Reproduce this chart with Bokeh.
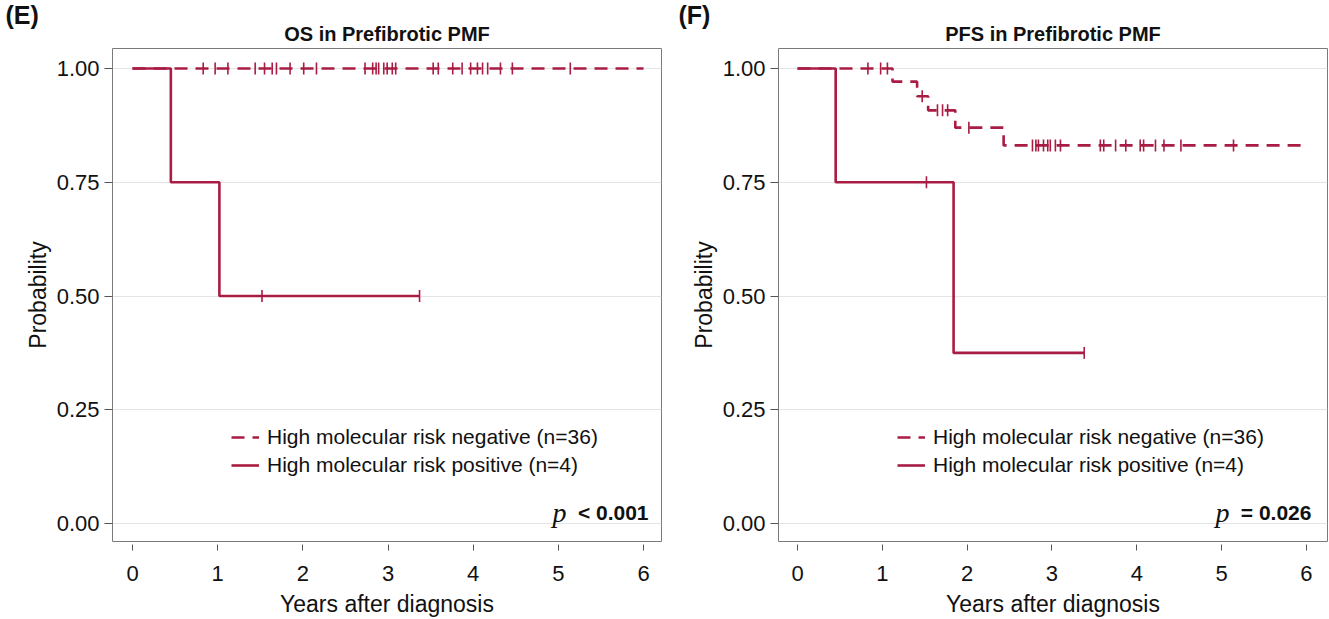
import numpy as np
from bokeh.plotting import figure
from bokeh.layouts import row
from bokeh.models import Label, Legend, LegendItem, FixedTicker, Range1d, PrintfTickFormatter, Title
from bokeh.embed import file_html
from bokeh.resources import INLINE

# ---------------- data ----------------
year_ticks = [0, 1, 2, 3, 4, 5, 6]
prob_ticks = [0.0, 0.25, 0.50, 0.75, 1.00]

neg_label = "High molecular risk negative (n=36)"
pos_label = "High molecular risk positive (n=4)"

# OS panel
os_neg_time = [0.0, 6.0]
os_neg_surv = [1.0, 1.0]
os_neg_censor = [0.83, 0.97, 1.12, 1.44, 1.55, 1.64, 1.69, 1.85, 2.01, 2.16,
                 2.73, 2.82, 2.86, 2.89, 2.95, 2.99, 3.05, 3.09, 3.53, 3.59,
                 3.76, 3.87, 3.97, 4.05, 4.11, 4.17, 4.32, 4.46, 5.14]
os_pos_time = [0.0, 0.45, 1.02, 3.37]
os_pos_surv = [1.0, 0.75, 0.50, 0.50]
os_pos_censor = [1.52, 3.37]

# PFS panel
pfs_neg_time = [0.0, 1.12, 1.41, 1.54, 1.86, 2.43, 6.0]
pfs_neg_surv = [1.0, 0.971, 0.939, 0.908, 0.870, 0.831, 0.831]
pfs_neg_censor = [0.83, 0.98, 1.06, 1.47, 1.65, 1.71, 1.77, 2.02,
                  2.77, 2.81, 2.84, 2.90, 2.95, 2.98, 3.04, 3.10, 3.57, 3.61,
                  3.75, 3.87, 4.04, 4.08, 4.22, 4.32, 4.52, 5.14]
pfs_pos_time = [0.0, 0.45, 1.84, 3.38]
pfs_pos_surv = [1.0, 0.75, 0.375, 0.375]
pfs_pos_censor = [1.52, 3.38]

COLOR = "#A91C43"
FONT = "Liberation Sans"
TXT = "#111111"


def surv_at(times, surv, pts):
    t = np.asarray(times)
    s = np.asarray(surv)
    idx = np.searchsorted(t, np.asarray(pts), side="right") - 1
    idx = np.clip(idx, 0, len(s) - 1)
    return s[idx]


def km_panel(title, letter, neg, pos, p_op, width, left, right, xr, letter_off):
    p = figure(width=width, height=619, output_backend="svg", toolbar_location=None,
               x_range=Range1d(*xr), y_range=Range1d(-0.0395, 1.0439),
               min_border_left=left, min_border_right=right,
               min_border_top=48, min_border_bottom=77)
    # outer title: panel letter
    p.title.text = letter
    p.title.align = "left"
    p.title.offset = letter_off
    p.title.text_font = FONT
    p.title.text_font_size = "25px"
    p.title.text_font_style = "bold"
    p.title.text_color = TXT
    p.title.standoff = -24

    # inner title: panel heading
    p.add_layout(Title(text=title, align="center", standoff=8,
                       text_font=FONT, text_font_size="20px", text_font_style="bold",
                       text_color=TXT), "above")

    p.outline_line_color = "#7a7a7a"
    p.outline_line_width = 1
    p.xgrid.grid_line_color = None
    p.ygrid.grid_line_color = "#e4e4e4"
    p.ygrid.grid_line_width = 1.2
    p.ygrid.ticker = FixedTicker(ticks=prob_ticks)

    p.xaxis.ticker = FixedTicker(ticks=year_ticks)
    p.yaxis.ticker = FixedTicker(ticks=prob_ticks)
    p.yaxis.formatter = PrintfTickFormatter(format="%.2f")
    for ax in (p.xaxis, p.yaxis):
        ax.axis_line_color = None
        ax.minor_tick_line_color = None
        ax.major_tick_line_color = "#555555"
        ax.major_tick_line_width = 1
        ax.major_label_text_font = FONT
        ax.major_label_text_font_size = "22px"
        ax.major_label_text_color = TXT
        ax.axis_label_text_font = FONT
        ax.axis_label_text_font_size = "23px"
        ax.axis_label_text_font_style = "normal"
        ax.axis_label_text_color = TXT
    p.xaxis.major_tick_in = -3
    p.xaxis.major_tick_out = 9
    p.xaxis.major_label_standoff = 15
    p.xaxis.axis_label_standoff = 7
    p.yaxis.major_tick_in = 0
    p.yaxis.major_tick_out = 8
    p.yaxis.major_label_standoff = 5
    p.yaxis.axis_label_standoff = 3
    p.xaxis.axis_label = "Years after diagnosis"
    p.yaxis.axis_label = "Probability"

    nt, ns, nc = neg
    pt, ps, pc = pos
    r_neg = p.step(nt, ns, mode="after", line_color=COLOR, line_width=2.6, line_dash="13 8")
    r_pos = p.step(pt, ps, mode="after", line_color=COLOR, line_width=2.6)
    p.scatter(nc, surv_at(nt, ns, nc), marker="dash", angle=np.pi / 2, size=12,
              line_color=COLOR, line_width=1.6)
    p.scatter(pc, surv_at(pt, ps, pc), marker="dash", angle=np.pi / 2, size=12,
              line_color=COLOR, line_width=1.6)

    legend = Legend(items=[LegendItem(label=neg_label, renderers=[r_neg]),
                           LegendItem(label=pos_label, renderers=[r_pos])],
                    location=(119, 64), padding=0, margin=0,
                    border_line_color=None, background_fill_alpha=0,
                    label_text_font=FONT, label_text_font_size="21px",
                    label_text_color=TXT, glyph_width=28, glyph_height=20,
                    label_height=25, spacing=3, label_standoff=8)
    p.add_layout(legend)

    p.add_layout(Label(x=6, y=0.024, x_offset=5, text=p_op, text_align="right",
                       text_baseline="alphabetic", text_font=FONT, text_font_size="21px",
                       text_font_style="bold", text_color=TXT))
    p.add_layout(Label(x=6, y=0.024, x_offset=-77, text="p", text_align="right",
                       text_baseline="alphabetic", text_font="Liberation Serif",
                       text_font_size="28px", text_font_style="italic", text_color=TXT))
    return p


p1 = km_panel("OS in Prefibrotic PMF", "(E)",
              (os_neg_time, os_neg_surv, os_neg_censor),
              (os_pos_time, os_pos_surv, os_pos_censor),
              "< 0.001", 665, 112, 4, (-0.235, 6.211), -107)
p2 = km_panel("PFS in Prefibrotic PMF", "(F)",
              (pfs_neg_time, pfs_neg_surv, pfs_neg_censor),
              (pfs_pos_time, pfs_pos_surv, pfs_pos_censor),
              "= 0.026", 664, 113, 2, (-0.224, 6.248), -100)

layout = row(p1, p2)
open("out.html", "w").write(file_html(layout, INLINE))
